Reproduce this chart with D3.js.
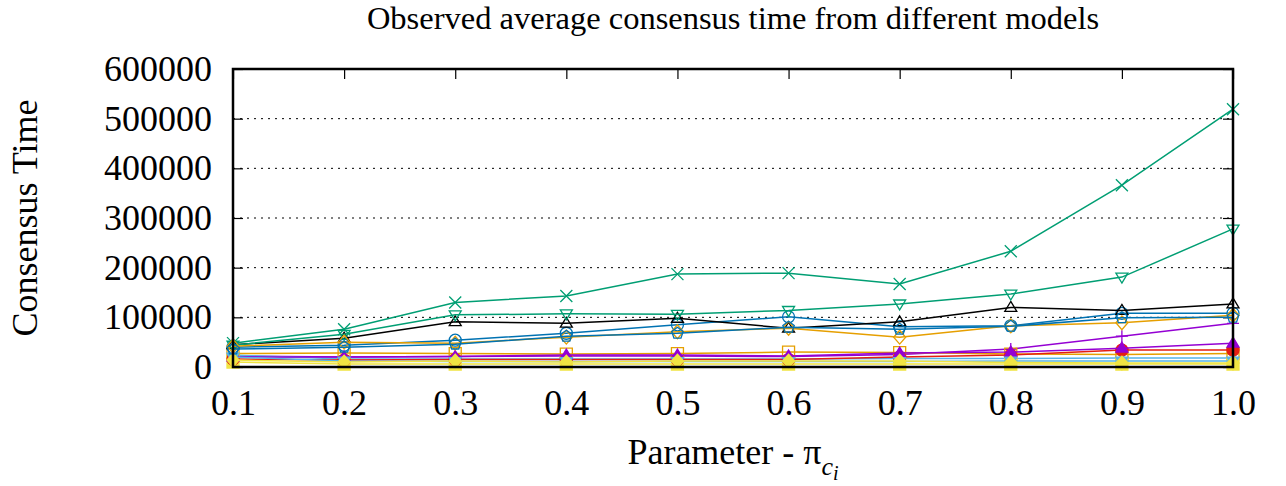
<!DOCTYPE html>
<html>
<head>
<meta charset="utf-8">
<script src="https://cdn.jsdelivr.net/npm/d3@7"></script>
<style>
  body { margin: 0; background: #fff; }
  svg { display: block; }
  svg text { font-family: "Liberation Serif", "Times New Roman", Times, "DejaVu Serif", serif; }
</style>
</head>
<body>
<svg id="chart" width="1286" height="486"></svg>
<script>
// x values (parameter pi_ci)
const params = [0.1, 0.2, 0.3, 0.4, 0.5, 0.6, 0.7, 0.8, 0.9, 1.0];
const yTicks = [0, 100000, 200000, 300000, 400000, 500000, 600000];

// one array per model
const purplePlus = [22000, 20000, 21000, 22000, 22000, 21000, 25000, 36000, 62000, 88000];
const greenTimes = [48000, 76000, 130000, 143000, 187000, 189000, 167000, 233000, 366000, 519000];
const skyStar = [24000, 16000, 16000, 16000, 16000, 16000, 17000, 17000, 18000, 18000];
const orangeSquare = [27000, 28000, 27000, 26000, 27000, 30000, 29000, 26000, 25000, 27000];
const yellowSquare = [10000, 6000, 6000, 6000, 6000, 6000, 6000, 6000, 6000, 6000];
const blueCircle = [40000, 44000, 54000, 68000, 85000, 101000, 81000, 83000, 108000, 108000];
const redCircle = [16000, 14000, 15000, 15000, 15000, 15000, 20000, 24000, 34000, 34000];
const blackTriangle = [45000, 58000, 91000, 88000, 98000, 78000, 91000, 120000, 114000, 127000];
const purpleTriangle = [20000, 20000, 21000, 24000, 24000, 22000, 28000, 30000, 38000, 48000];
const greenDown = [44000, 66000, 105000, 107000, 106000, 114000, 127000, 147000, 181000, 278000];
const skyDown = [20000, 12000, 11000, 11000, 11000, 11000, 11000, 12000, 12000, 12000];
const orangeDiamond = [42000, 50000, 48000, 60000, 71000, 78000, 60000, 83000, 89000, 104000];
const yellowDiamond = [14000, 10000, 12000, 10000, 12000, 12000, 12000, 9000, 8000, 8000];
const bluePentagon = [36000, 40000, 46000, 62000, 68000, 80000, 76000, 82000, 99000, 100000];

const series = [
  { values: purplePlus, color: '#9400d3', mark: 'plus' },
  { values: greenTimes, color: '#009e73', mark: 'times' },
  { values: skyStar, color: '#56b4e9', mark: 'star' },
  { values: orangeSquare, color: '#e69f00', mark: 'square' },
  { values: yellowSquare, color: '#f0e442', mark: 'square', filled: true },
  { values: blueCircle, color: '#0072b2', mark: 'circle' },
  { values: redCircle, color: '#e51e10', mark: 'circle', filled: true },
  { values: blackTriangle, color: '#000000', mark: 'up' },
  { values: purpleTriangle, color: '#9400d3', mark: 'up', filled: true },
  { values: greenDown, color: '#009e73', mark: 'down' },
  { values: skyDown, color: '#56b4e9', mark: 'down', filled: true },
  { values: orangeDiamond, color: '#e69f00', mark: 'diamond' },
  { values: yellowDiamond, color: '#f0e442', mark: 'diamond', filled: true },
  { values: bluePentagon, color: '#0072b2', mark: 'pentagon' }
];

const svg = d3.select('svg#chart');
const plotLeft = 233, plotRight = 1233, plotTop = 69, plotBottom = 367;

const x = d3.scaleLinear().domain([0.1, 1.0]).range([plotLeft, plotRight]);
const y = d3.scaleLinear().domain([0, 600000]).range([plotBottom, plotTop]);

// marker shapes, s = half size
const S = 6;
const shapes = {
  plus: (s) => `M${-s},0H${s}M0,${-s}V${s}`,
  times: (s) => `M${-s},${-s}L${s},${s}M${-s},${s}L${s},${-s}`,
  star: (s) => `M${-s},0H${s}M0,${-s}V${s}M${-s * 0.7},${-s * 0.7}L${s * 0.7},${s * 0.7}M${-s * 0.7},${s * 0.7}L${s * 0.7},${-s * 0.7}`,
  square: (s) => `M${-s},${-s}H${s}V${s}H${-s}Z`,
  circle: (s) => `M${s},0A${s},${s} 0 1,1 ${-s},0A${s},${s} 0 1,1 ${s},0Z`,
  up: (s) => `M0,${-s}L${s},${s * 0.65}H${-s}Z`,
  down: (s) => `M0,${s}L${s},${-s * 0.65}H${-s}Z`,
  diamond: (s) => `M0,${-s * 1.15}L${s},0L0,${s * 1.15}L${-s},0Z`,
  pentagon: (s) => d3.range(5).map((i) => {
    const a = -Math.PI / 2 + i * 2 * Math.PI / 5;
    return (i ? 'L' : 'M') + (s * Math.cos(a)).toFixed(2) + ',' + (s * Math.sin(a)).toFixed(2);
  }).join('') + 'Z'
};

// grid lines
svg.append('g')
  .selectAll('line')
  .data(yTicks.slice(1, -1))
  .enter()
  .append('line')
  .attr('x1', plotLeft)
  .attr('x2', plotRight)
  .attr('y1', (d) => y(d))
  .attr('y2', (d) => y(d))
  .attr('stroke', '#000')
  .attr('stroke-width', 1)
  .attr('stroke-dasharray', '2,5');

// axes with inward ticks
const fmtX = d3.format('.1f');
const axes = [
  svg.append('g').attr('transform', `translate(0,${plotBottom})`)
    .call(d3.axisBottom(x).tickValues(params).tickFormat(fmtX).tickSize(-10).tickPadding(22)),
  svg.append('g').attr('transform', `translate(0,${plotTop})`)
    .call(d3.axisTop(x).tickValues(params).tickFormat('').tickSize(-10)),
  svg.append('g').attr('transform', `translate(${plotLeft},0)`)
    .call(d3.axisLeft(y).tickValues(yTicks).tickFormat(d3.format('d')).tickSize(-10).tickPadding(21)),
  svg.append('g').attr('transform', `translate(${plotRight},0)`)
    .call(d3.axisRight(y).tickValues(yTicks).tickFormat('').tickSize(-10))
];
axes.forEach((g) => {
  g.attr('font-family', null).attr('font-size', null);
  g.select('.domain').remove();
  g.selectAll('.tick line').attr('stroke', '#000').attr('stroke-width', 1.2);
  g.selectAll('.tick text')
    .attr('fill', '#000')
    .style('font-size', '36px');
});

// series lines and points
const lineFunction = d3.line()
  .x((d, i) => x(params[i]))
  .y((d) => y(d));

series.forEach((s) => {
  const g = svg.append('g');
  g.append('path')
    .attr('d', lineFunction(s.values))
    .attr('fill', 'none')
    .attr('stroke', s.color)
    .attr('stroke-width', 1.5);
  g.selectAll('path.pt')
    .data(s.values)
    .enter()
    .append('path')
    .attr('class', 'pt')
    .attr('transform', (d, i) => `translate(${x(params[i])},${y(d)})`)
    .attr('d', shapes[s.mark](S))
    .attr('fill', s.filled ? s.color : 'none')
    .attr('stroke', s.color)
    .attr('stroke-width', 1.3);
});

// border on top
svg.append('rect')
  .attr('x', plotLeft)
  .attr('y', plotTop)
  .attr('width', plotRight - plotLeft)
  .attr('height', plotBottom - plotTop)
  .attr('fill', 'none')
  .attr('stroke', '#000')
  .attr('stroke-width', 2.5);

// title and axis labels
svg.append('text')
  .attr('x', (plotLeft + plotRight) / 2)
  .attr('y', 29)
  .attr('text-anchor', 'middle')
  .style('font-size', '32.5px')
  .text('Observed average consensus time from different models');

svg.append('text')
  .attr('transform', `translate(37,${(plotTop + plotBottom) / 2}) rotate(-90)`)
  .attr('text-anchor', 'middle')
  .style('font-size', '36px')
  .text('Consensus Time');

const xl = svg.append('text')
  .attr('x', (plotLeft + plotRight) / 2)
  .attr('y', 464)
  .attr('text-anchor', 'middle')
  .style('font-size', '36px');
xl.append('tspan').text('Parameter - π');
xl.append('tspan').attr('font-style', 'italic').style('font-size', '26px').attr('dy', 11).text('c');
xl.append('tspan').attr('font-style', 'italic').style('font-size', '20px').attr('dy', 5).text('i');
</script>
</body>
</html>
